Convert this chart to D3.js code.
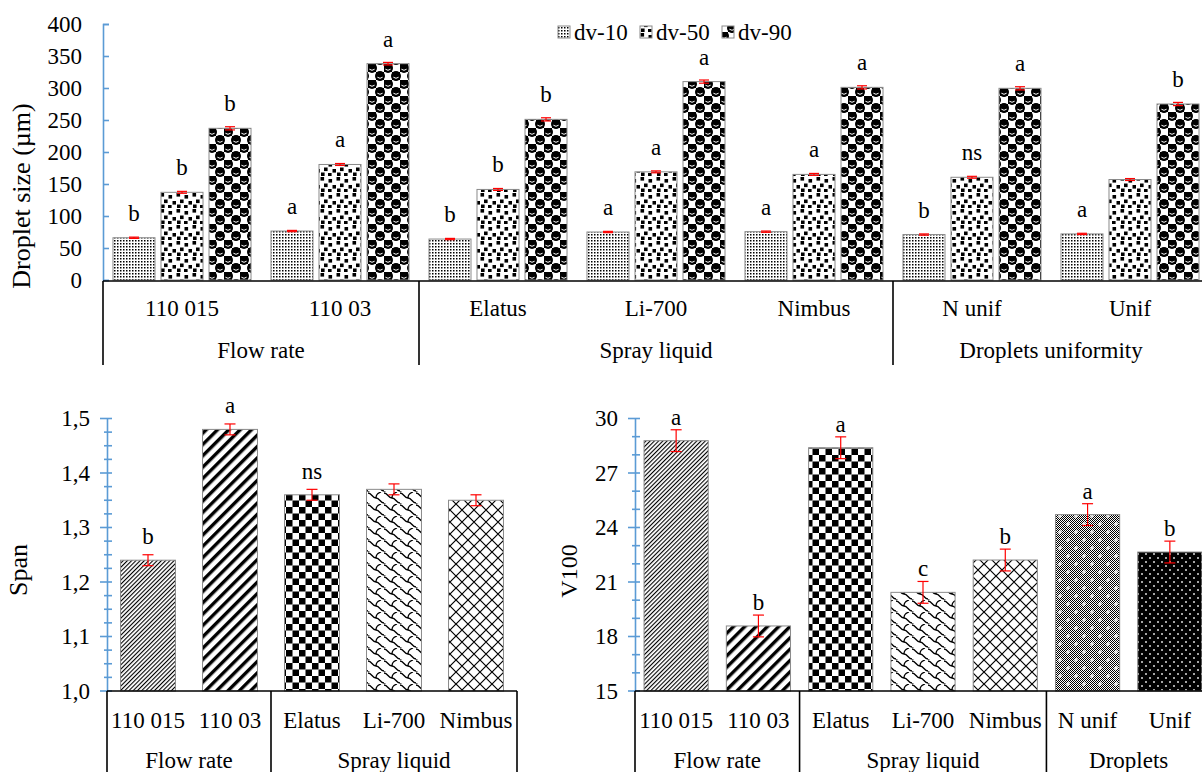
<!DOCTYPE html>
<html>
<head>
<meta charset="utf-8">
<script src="https://cdn.jsdelivr.net/npm/d3@7"></script>
<style>
  body { margin: 0; background: #fff; }
  svg text { font-family: "Liberation Serif", "Times New Roman", serif; fill: #000; }
</style>
</head>
<body>
<div id="chart"></div>
<script>
// ---- data: droplet size chart ----
const sizeCategories = ["110 015", "110 03", "Elatus", "Li-700", "Nimbus", "N unif", "Unif"];
const sizeGroups = [["Flow rate", 2], ["Spray liquid", 3], ["Droplets uniformity", 2]];
const sizeSeries = ["dv-10", "dv-50", "dv-90"];
const dv10 = [66, 76.5, 64, 75, 75.5, 71, 72];
const dv50 = [137, 180.5, 141.5, 169, 165, 160.5, 157];
const dv90 = [237, 338, 251, 310, 301, 299.5, 275];
const dv10Err = [1, 1, 1, 1, 1, 1, 1];
const dv50Err = [1.5, 1.5, 1.5, 1.5, 1.5, 1.5, 1.5];
const dv90Err = [2.5, 2, 2.5, 2.5, 2.5, 2.5, 2.5];
const dv10Letters = ["b", "a", "b", "a", "a", "b", "a"];
const dv50Letters = ["b", "a", "b", "a", "a", "ns", ""];
const dv90Letters = ["b", "a", "b", "a", "a", "a", "b"];
const sizeTicks = [0, 50, 100, 150, 200, 250, 300, 350, 400];

// ---- data: span chart ----
const spanCategories = ["110 015", "110 03", "Elatus", "Li-700", "Nimbus"];
const spanGroups = [["Flow rate", 2], ["Spray liquid", 3]];
const spanValues = [1.24, 1.48, 1.36, 1.37, 1.35];
const spanErr = [0.01, 0.01, 0.01, 0.01, 0.01];
const spanLetters = ["b", "a", "ns", "", ""];
const spanTicks = [1.0, 1.1, 1.2, 1.3, 1.4, 1.5];

// ---- data: V100 chart ----
const v100Categories = ["110 015", "110 03", "Elatus", "Li-700", "Nimbus", "N unif", "Unif"];
const v100Groups = [["Flow rate", 2], ["Spray liquid", 3], ["Droplets", 2]];
const v100Values = [28.78, 18.58, 28.39, 20.43, 22.21, 24.71, 22.65];
const v100Err = [0.6, 0.6, 0.6, 0.6, 0.6, 0.6, 0.6];
const v100Letters = ["a", "b", "a", "c", "b", "a", "b"];
const v100Ticks = [15, 18, 21, 24, 27, 30];

const AXIS_BLUE = "#5b9bd5";
const ERR_RED = "#ff0000";
const BAR_STROKE = "#8a8a8a";

const svg = d3.select("#chart").append("svg")
  .attr("width", 1202)
  .attr("height", 772);
const defs = svg.append("defs");

function addPattern(id, w, h, draw, transform) {
  const p = defs.append("pattern")
    .attr("id", id)
    .attr("patternUnits", "userSpaceOnUse")
    .attr("width", w)
    .attr("height", h);
  if (transform) p.attr("patternTransform", transform);
  p.append("rect").attr("width", w).attr("height", h).attr("fill", "#fff");
  draw(p);
}

// fine dots
addPattern("pat-dv10", 3, 3, p => {
  p.append("rect").attr("width", 1.5).attr("height", 1.5).attr("fill", "#000");
});
// confetti squares
addPattern("pat-dv50", 16, 16, p => {
  [[0.5, 1], [8.5, 3], [4, 7.5], [12.5, 9], [1, 12.5], [8, 13]].forEach(([x, y]) => {
    p.append("rect").attr("x", x).attr("y", y).attr("width", 3.6).attr("height", 3.6).attr("fill", "#000");
  });
});
// spheres
addPattern("pat-dv90", 16, 16, p => {
  [[0, 0], [8, 8]].forEach(([x, y]) => {
    p.append("rect").attr("x", x).attr("y", y).attr("width", 8).attr("height", 8).attr("fill", "#000");
  });
  [[4, 4], [12, 12], [12, -4], [-4, 12], [20, 12], [12, 20]].forEach(([cx, cy]) => {
    p.append("circle").attr("cx", cx).attr("cy", cy).attr("r", 5).attr("fill", "#000");
    p.append("path")
      .attr("d", `M${cx - 2.6},${cy + 1.2} Q${cx},${cy + 3.4} ${cx + 2.6},${cy + 1.2}`)
      .attr("stroke", "#fff").attr("stroke-width", 1).attr("fill", "none");
  });
});
// thin upward diagonal
addPattern("pat-thin-diag", 3, 3, p => {
  p.append("rect").attr("width", 1.1).attr("height", 3).attr("fill", "#000");
}, "rotate(45)");
// wide upward diagonal
addPattern("pat-wide-diag", 8, 8, p => {
  p.append("rect").attr("width", 3.4).attr("height", 8).attr("fill", "#000");
}, "rotate(45)");
// checkerboard
addPattern("pat-checker", 13, 13, p => {
  p.append("rect").attr("width", 6.5).attr("height", 6.5).attr("fill", "#000");
  p.append("rect").attr("x", 6.5).attr("y", 6.5).attr("width", 6.5).attr("height", 6.5).attr("fill", "#000");
});
// shingle
addPattern("pat-shingle", 16, 12, p => {
  p.append("path")
    .attr("d", "M0,1 C4,1 4,6 8,6 C12,6 12,11 16,11 M8,6 C8,3 10,1 13,0 M-8,-5 C-4,-5 -4,0 0,0 M0,12 C4,12 4,17 8,17")
    .attr("stroke", "#000").attr("stroke-width", 1.3).attr("fill", "none");
});
// diagonal lattice
addPattern("pat-lattice", 12, 12, p => {
  p.append("path")
    .attr("d", "M0,0 L12,12 M12,0 L0,12")
    .attr("stroke", "#000").attr("stroke-width", 1.2).attr("fill", "none");
});
// fine grey checker with white crosses
addPattern("pat-fine-check", 2, 2, p => {
  p.append("rect").attr("width", 1).attr("height", 1).attr("fill", "#000");
  p.append("rect").attr("x", 1).attr("y", 1).attr("width", 1).attr("height", 1).attr("fill", "#000");
});
addPattern("pat-nunif", 16, 16, p => {
  p.append("rect").attr("width", 16).attr("height", 16).attr("fill", "url(#pat-fine-check)");
  [[4, 4], [12, 12]].forEach(([x, y]) => {
    p.append("path")
      .attr("d", `M${x - 2},${y} L${x + 2},${y} M${x},${y - 2} L${x},${y + 2}`)
      .attr("stroke", "#fff").attr("stroke-width", 1.2);
  });
});
// black with white dots
addPattern("pat-unif", 8, 8, p => {
  p.append("rect").attr("width", 8).attr("height", 8).attr("fill", "#000");
  [[1.2, 1.2], [5.2, 5.2]].forEach(([x, y]) => {
    p.append("rect").attr("x", x).attr("y", y).attr("width", 1.6).attr("height", 1.6).attr("fill", "#fff");
  });
});

const seriesPattern = { "dv-10": "pat-dv10", "dv-50": "pat-dv50", "dv-90": "pat-dv90" };
const categoryPattern = {
  "110 015": "pat-thin-diag", "110 03": "pat-wide-diag", "Elatus": "pat-checker",
  "Li-700": "pat-shingle", "Nimbus": "pat-lattice", "N unif": "pat-nunif", "Unif": "pat-unif"
};

function errorBar(g, cx, yLo, yHi, cap) {
  g.append("line").attr("x1", cx).attr("x2", cx).attr("y1", yLo).attr("y2", yHi)
    .attr("stroke", ERR_RED).attr("stroke-width", 1.2);
  [yLo, yHi].forEach(yy => {
    g.append("line").attr("x1", cx - cap / 2).attr("x2", cx + cap / 2).attr("y1", yy).attr("y2", yy)
      .attr("stroke", ERR_RED).attr("stroke-width", 1.2);
  });
}

// category box under a plot: baseline, separators, labels
function categoryBox(g, x, categories, groups, yBase, yBottom, catY, groupY) {
  const [r0, r1] = x.range();
  const step = x.step();
  g.append("line").attr("x1", r0).attr("x2", r1).attr("y1", yBase).attr("y2", yBase)
    .attr("stroke", "#000").attr("stroke-width", 1.6);
  let idx = 0;
  const seps = [0];
  groups.forEach(([name, n]) => {
    const xa = r0 + idx * step, xb = r0 + (idx + n) * step;
    g.append("text").attr("x", (xa + xb) / 2).attr("y", groupY)
      .attr("text-anchor", "middle").style("font-size", "23px").text(name);
    idx += n;
    seps.push(idx);
  });
  seps.forEach(i => {
    const xx = r0 + i * step;
    g.append("line").attr("x1", xx).attr("x2", xx).attr("y1", yBase).attr("y2", yBottom)
      .attr("stroke", "#000").attr("stroke-width", 1.6);
  });
  categories.forEach(c => {
    g.append("text").attr("x", x(c) + x.bandwidth() / 2).attr("y", catY)
      .attr("text-anchor", "middle").style("font-size", "23px").text(c);
  });
}

// ================= droplet size chart =================
(function () {
  const g = svg.append("g");
  const x = d3.scaleBand().domain(sizeCategories).range([103, 1209]).padding(0);
  const xBar = d3.scaleBand().domain(sizeSeries).range([0, x.bandwidth()])
    .paddingInner(0.125).paddingOuter(0.208);
  const y = d3.scaleLinear().domain([0, 400]).range([280, 24]);

  const rows = sizeCategories.map((c, i) => ({
    cat: c,
    bars: [
      { s: "dv-10", v: dv10[i], e: dv10Err[i], l: dv10Letters[i] },
      { s: "dv-50", v: dv50[i], e: dv50Err[i], l: dv50Letters[i] },
      { s: "dv-90", v: dv90[i], e: dv90Err[i], l: dv90Letters[i] }
    ]
  }));

  rows.forEach(r => {
    r.bars.forEach(b => {
      const bx = x(r.cat) + xBar(b.s);
      g.append("rect")
        .attr("x", bx).attr("y", y(b.v))
        .attr("width", xBar.bandwidth()).attr("height", y(0) - y(b.v))
        .attr("fill", `url(#${seriesPattern[b.s]})`)
        .attr("stroke", BAR_STROKE).attr("stroke-width", 1);
      const cx = bx + xBar.bandwidth() / 2;
      errorBar(g, cx, y(b.v - b.e), y(b.v + b.e), 10);
      if (b.l) {
        g.append("text").attr("x", cx).attr("y", y(b.v) - 17)
          .attr("text-anchor", "middle").style("font-size", "23px").text(b.l);
      }
    });
  });

  const yAxis = g.append("g").attr("transform", "translate(103,0)")
    .call(d3.axisLeft(y).tickValues(sizeTicks).tickSize(-6).tickPadding(21));
  yAxis.select(".domain").attr("stroke", AXIS_BLUE).attr("stroke-width", 1.6);
  yAxis.selectAll(".tick line").attr("stroke", AXIS_BLUE).attr("stroke-width", 1.6);
  yAxis.selectAll(".tick text").style("font-size", "23px")
    .style("font-family", "'Liberation Serif', 'Times New Roman', serif");

  categoryBox(g, x, sizeCategories, sizeGroups, 281, 365, 316, 358);

  g.append("text")
    .attr("transform", "translate(30,196) rotate(-90)")
    .attr("text-anchor", "middle").style("font-size", "26px")
    .text("Droplet size (µm)");

  // legend
  const legendX = [558, 640, 722];
  sizeSeries.forEach((s, i) => {
    g.append("rect").attr("x", legendX[i]).attr("y", 26).attr("width", 12).attr("height", 12)
      .attr("fill", `url(#${seriesPattern[s]})`).attr("stroke", BAR_STROKE);
    g.append("text").attr("x", legendX[i] + 16).attr("y", 40)
      .style("font-size", "23px").text(s);
  });
})();

// ================= single-series charts =================
function singleChart(opts) {
  const g = svg.append("g");
  const x = d3.scaleBand().domain(opts.categories).range(opts.xRange)
    .paddingInner(opts.pad).paddingOuter(opts.pad / 2);
  const y = d3.scaleLinear().domain(opts.yDomain).range([691, 418.5]);

  opts.categories.forEach((c, i) => {
    const v = opts.values[i], e = opts.err[i];
    g.append("rect")
      .attr("x", x(c)).attr("y", y(v))
      .attr("width", x.bandwidth()).attr("height", y(opts.yDomain[0]) - y(v))
      .attr("fill", `url(#${categoryPattern[c]})`)
      .attr("stroke", BAR_STROKE).attr("stroke-width", 1);
    const cx = x(c) + x.bandwidth() / 2;
    errorBar(g, cx, y(v - e), y(v + e), 11);
    if (opts.letters[i]) {
      g.append("text").attr("x", cx).attr("y", y(v) - 16)
        .attr("text-anchor", "middle").style("font-size", "23px").text(opts.letters[i]);
    }
  });

  const ax = opts.xRange[0];
  const yAxis = g.append("g").attr("transform", `translate(${ax},0)`)
    .call(d3.axisLeft(y).tickValues(opts.ticks).tickSize(0).tickPadding(17).tickFormat(opts.format));
  yAxis.select(".domain").attr("stroke", AXIS_BLUE).attr("stroke-width", 1.6);
  yAxis.selectAll(".tick text").style("font-size", "23px")
    .style("font-family", "'Liberation Serif', 'Times New Roman', serif");
  // crossing major ticks and inner minor ticks
  g.selectAll(null).data(opts.ticks).join("line")
    .attr("x1", ax - 7).attr("x2", ax + 5)
    .attr("y1", d => y(d)).attr("y2", d => y(d))
    .attr("stroke", AXIS_BLUE).attr("stroke-width", 1.6);
  g.selectAll(null).data(opts.minorTicks).join("line")
    .attr("x1", ax - 3).attr("x2", ax + 5)
    .attr("y1", d => y(d)).attr("y2", d => y(d))
    .attr("stroke", AXIS_BLUE).attr("stroke-width", 1.6);

  categoryBox(g, x, opts.categories, opts.groups, 691, 772, 728, 768);

  g.append("text")
    .attr("transform", `translate(${opts.titleX},${opts.titleY}) rotate(-90)`)
    .attr("text-anchor", "middle").style("font-size", opts.titleSize)
    .text(opts.title);
}

const commaFmt = d => d3.format(".1f")(d).replace(".", ",");

singleChart({
  categories: spanCategories, groups: spanGroups, values: spanValues, err: spanErr,
  letters: spanLetters, ticks: spanTicks,
  minorTicks: d3.range(1.025, 1.5, 0.025).filter(t => Math.abs(t * 10 - Math.round(t * 10)) > 0.01),
  yDomain: [1.0, 1.5], xRange: [107, 517], pad: 0.33, format: commaFmt,
  title: "Span", titleX: 27, titleY: 570, titleSize: "26px"
});

singleChart({
  categories: v100Categories, groups: v100Groups, values: v100Values, err: v100Err,
  letters: v100Letters, ticks: v100Ticks,
  minorTicks: d3.range(16, 30, 1).filter(t => t % 3 !== 0),
  yDomain: [15, 30], xRange: [635, 1211], pad: 0.22, format: d3.format("d"),
  title: "V100", titleX: 577, titleY: 571, titleSize: "24px"
});
</script>
</body>
</html>
